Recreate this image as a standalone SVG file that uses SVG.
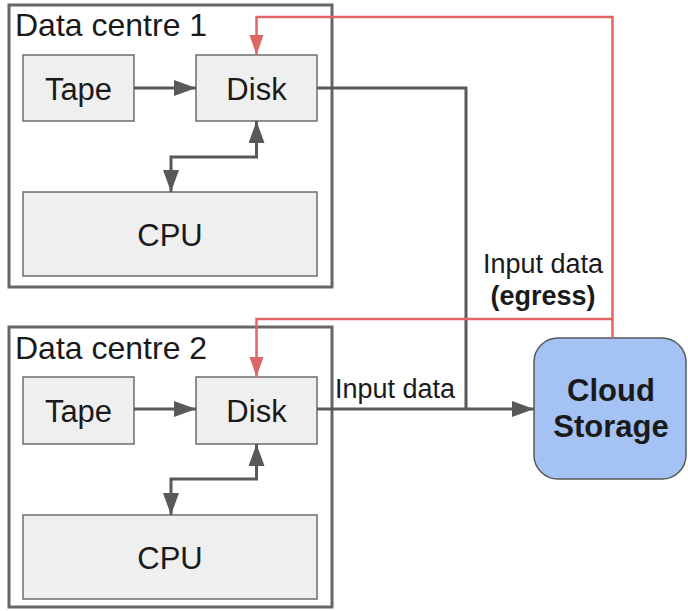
<svg xmlns="http://www.w3.org/2000/svg" width="688" height="611" viewBox="0 0 688 611">
  <style>
    .dc { fill: #ffffff; stroke: #666666; stroke-width: 3; }
    .box { fill: #efefef; stroke: #6d6d6d; stroke-width: 1.5; }
    .cloud { fill: #a4c2f4; stroke: #595959; stroke-width: 1.5; }
    .lbl { font-family: "Liberation Sans", Arial, sans-serif; fill: #1a1a1a; }
    .big { font-size: 31px; }
    .title { font-size: 32px; }
    .small { font-size: 27px; }
    .bold { font-weight: bold; }
    .gray { fill: none; stroke: #595959; stroke-width: 3; }
    .red { fill: none; stroke: #e06666; stroke-width: 2.5; }
  </style>
  <defs>
    <marker id="arrowGray" markerUnits="userSpaceOnUse" markerWidth="24" markerHeight="18" refX="22" refY="8" orient="auto-start-reverse">
      <path d="M0,0 L22,8 L0,16 Z" fill="#595959"/>
    </marker>
    <marker id="arrowRed" markerUnits="userSpaceOnUse" markerWidth="22" markerHeight="16" refX="20" refY="7" orient="auto">
      <path d="M0,0 L20,7 L0,14 Z" fill="#e06666"/>
    </marker>
  </defs>

  <!-- Data centre 1 -->
  <g id="dc1">
    <rect class="dc" x="9" y="5" width="323" height="282"/>
    <text class="lbl title" x="15" y="36">Data centre 1</text>
  </g>
  <g id="tape1">
    <rect class="box" x="23" y="55" width="111" height="66"/>
    <text class="lbl big" x="78.5" y="100" text-anchor="middle">Tape</text>
  </g>
  <g id="disk1">
    <rect class="box" x="196" y="55" width="121" height="66"/>
    <text class="lbl big" x="256.5" y="100" text-anchor="middle">Disk</text>
  </g>
  <g id="cpu1">
    <rect class="box" x="23" y="192" width="294" height="84"/>
    <text class="lbl big" x="170" y="246" text-anchor="middle">CPU</text>
  </g>

  <!-- Data centre 2 -->
  <g id="dc2">
    <rect class="dc" x="9" y="327" width="323" height="280"/>
    <text class="lbl title" x="15" y="359">Data centre 2</text>
  </g>
  <g id="tape2">
    <rect class="box" x="23" y="377" width="111" height="67"/>
    <text class="lbl big" x="78.5" y="422" text-anchor="middle">Tape</text>
  </g>
  <g id="disk2">
    <rect class="box" x="196" y="377" width="121" height="67"/>
    <text class="lbl big" x="256.5" y="422" text-anchor="middle">Disk</text>
  </g>
  <g id="cpu2">
    <rect class="box" x="23" y="515" width="294" height="84"/>
    <text class="lbl big" x="170" y="569" text-anchor="middle">CPU</text>
  </g>

  <!-- Cloud storage -->
  <g id="cloud">
    <rect class="cloud" x="534" y="338" width="152" height="141" rx="24" ry="24"/>
    <text class="lbl big bold" x="611" y="401" text-anchor="middle" fill="#0f1a2e">Cloud</text>
    <text class="lbl big bold" x="611" y="437" text-anchor="middle" fill="#0f1a2e">Storage</text>
  </g>

  <!-- Connectors -->
  <g id="connectors">
    <path class="gray" d="M134,88 H196" marker-end="url(#arrowGray)"/>
    <path class="gray" d="M256.5,121 V157 H171 V192" marker-start="url(#arrowGray)" marker-end="url(#arrowGray)"/>
    <path class="gray" d="M134,409 H196" marker-end="url(#arrowGray)"/>
    <path class="gray" d="M256.5,444 V479 H171 V515" marker-start="url(#arrowGray)" marker-end="url(#arrowGray)"/>
    <path class="gray" d="M317,88 H466 V409"/>
    <path class="gray" d="M317,409 H534" marker-end="url(#arrowGray)"/>
    <path class="red" d="M612.5,338 V17 H256.5 V55" marker-end="url(#arrowRed)"/>
    <path class="red" d="M612.5,319 H256.5 V377" marker-end="url(#arrowRed)"/>
  </g>

  <!-- Connector labels -->
  <g id="labels">
    <text class="lbl small" x="335" y="398">Input data</text>
    <text class="lbl small" x="543" y="273" text-anchor="middle">Input data</text>
    <text class="lbl small bold" x="543" y="305" text-anchor="middle">(egress)</text>
  </g>
</svg>
